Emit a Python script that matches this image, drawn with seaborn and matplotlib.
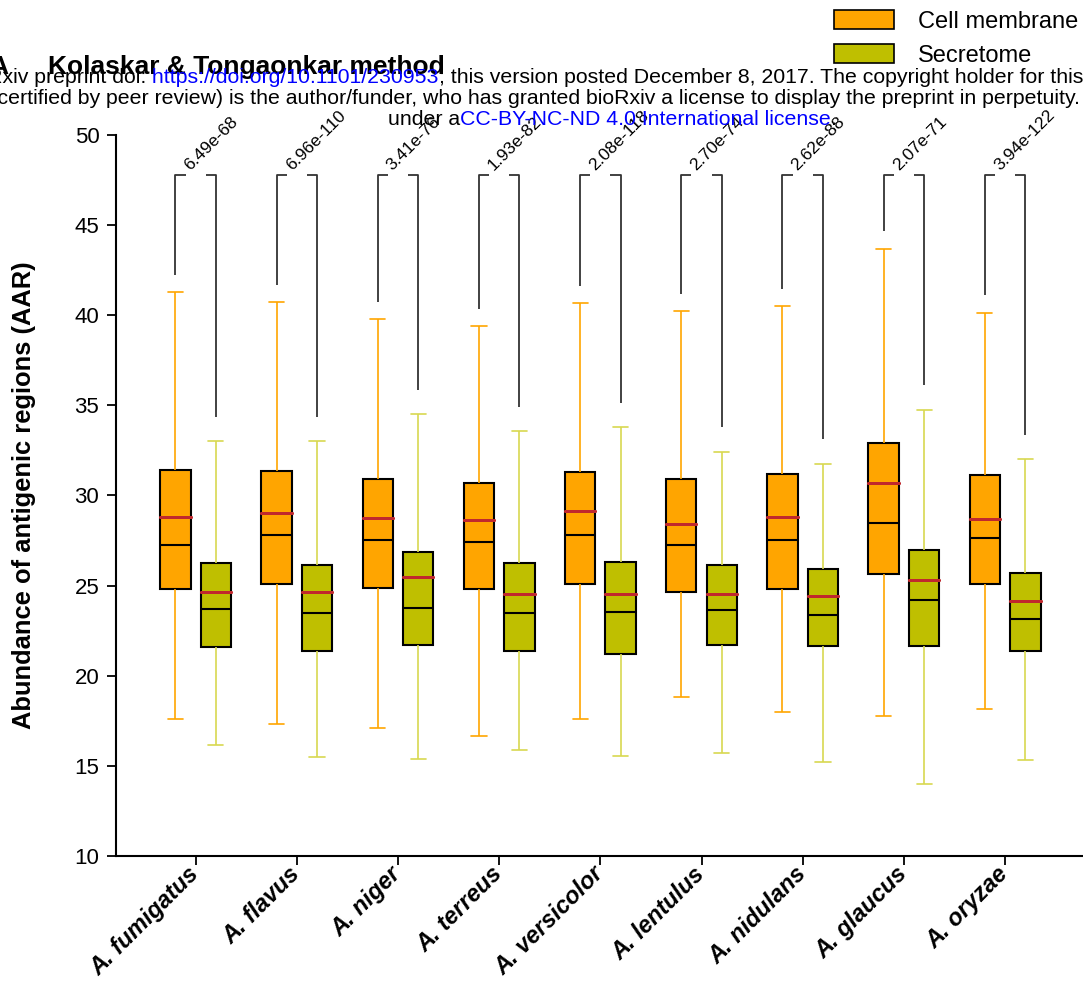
import numpy as np
import pandas as pd
import matplotlib
matplotlib.use("Agg")
import matplotlib.pyplot as plt
import seaborn as sns
from matplotlib.patches import Patch

# ---------------- data ----------------
species = ["A. fumigatus", "A. flavus", "A. niger", "A. terreus", "A. versicolor",
           "A. lentulus", "A. nidulans", "A. glaucus", "A. oryzae"]
groups = ["Cell membrane", "Secretome"]

cm_max = [41.28, 40.74, 39.78, 39.39, 40.67, 40.24, 40.52, 43.70, 40.15]
cm_q3 = [31.41, 31.35, 30.89, 30.70, 31.33, 30.91, 31.20, 32.89, 31.15]
cm_med = [27.26, 27.80, 27.54, 27.44, 27.81, 27.28, 27.54, 28.50, 27.63]
cm_mean = [28.81, 29.02, 28.74, 28.63, 29.13, 28.41, 28.78, 30.72, 28.72]
cm_q1 = [24.80, 25.07, 24.89, 24.83, 25.07, 24.63, 24.81, 25.65, 25.09]
cm_min = [17.59, 17.31, 17.09, 16.63, 17.59, 18.80, 17.98, 17.76, 18.13]

se_max = [33.00, 33.00, 34.52, 33.57, 33.80, 32.44, 31.76, 34.76, 32.00]
se_q3 = [26.24, 26.13, 26.85, 26.24, 26.33, 26.13, 25.93, 26.96, 25.69]
se_med = [23.69, 23.48, 23.78, 23.48, 23.56, 23.65, 23.39, 24.19, 23.17]
se_mean = [24.63, 24.65, 25.46, 24.56, 24.52, 24.56, 24.44, 25.33, 24.13]
se_q1 = [21.59, 21.35, 21.69, 21.35, 21.22, 21.72, 21.63, 21.67, 21.39]
se_min = [16.15, 15.48, 15.37, 15.89, 15.56, 15.74, 15.20, 13.98, 15.31]

pvals = ["6.49e-68", "6.96e-110", "3.41e-76", "1.93e-82", "2.08e-118",
         "2.70e-74", "2.62e-88", "2.07e-71", "3.94e-122"]
bracket_top = 47.78

# ---------------- tables ----------------
stats = {
    "Cell membrane": (cm_min, cm_q1, cm_med, cm_q3, cm_max, cm_mean),
    "Secretome": (se_min, se_q1, se_med, se_q3, se_max, se_mean),
}
rows, mrows = [], []
for g in groups:
    mn, q1, md, q3, mx, me = stats[g]
    for i, sp in enumerate(species):
        for v in (mn[i], q1[i], md[i], q3[i], mx[i]):
            rows.append((sp, g, v))
        mrows.append((sp, g, me[i]))
df = pd.DataFrame(rows, columns=["species", "location", "AAR"])
dmean = pd.DataFrame(mrows, columns=["species", "location", "AAR"])

# ---------------- style ----------------
sns.set_theme(style="ticks")
plt.rcParams["font.family"] = ["Liberation Sans", "DejaVu Sans"]
for k in ("text.color", "axes.labelcolor", "xtick.color", "ytick.color", "axes.edgecolor"):
    plt.rcParams[k] = "black"

W, H = 1083, 989
fig = plt.figure(figsize=(W / 100, H / 100), dpi=100)
ax = fig.add_axes([116 / W, 133 / H, 1 - 116 / W, 721 / H])

fill_col = {"Cell membrane": "#FFA500", "Secretome": "#BFBF00"}
wh_col = {"Cell membrane": "#FFA500", "Secretome": "#D8D850"}
mean_col = "#C0282D"

for g in groups:
    sns.boxplot(data=df[df["location"] == g], x="species", y="AAR", hue="location",
                order=species, hue_order=groups, palette=fill_col, saturation=1,
                dodge=True, width=0.8, gap=0.25, whis=(0, 100), showfliers=False,
                linecolor="black", linewidth=1.5,
                whiskerprops=dict(color=wh_col[g], linewidth=1.2),
                capprops=dict(color=wh_col[g], linewidth=1.2),
                medianprops=dict(color="black", linewidth=1.5),
                legend=False, ax=ax)

# mean lines (single-value boxes collapse to a horizontal line)
sns.boxplot(data=dmean, x="species", y="AAR", hue="location",
            order=species, hue_order=groups, saturation=1, dodge=True,
            palette={g: mean_col for g in groups},
            width=0.8, gap=0.25, fill=False, whis=(0, 100), showfliers=False,
            showcaps=False, linewidth=2.0, legend=False, ax=ax)

# significance brackets
for i in range(len(species)):
    xl, xr = i - 0.2, i + 0.2
    yl = cm_max[i] + 0.95
    yr = se_max[i] + 1.35
    ax.plot([xl, xl, xl + 0.1], [yl, bracket_top, bracket_top], color="#333333",
            lw=1.3, solid_capstyle="butt", clip_on=False)
    ax.plot([xr - 0.1, xr, xr], [bracket_top, bracket_top, yr], color="#333333",
            lw=1.3, solid_capstyle="butt", clip_on=False)
    ax.text(i - 0.03, bracket_top + 0.12, pvals[i], rotation=45, ha="left",
            va="bottom", rotation_mode="anchor", fontsize=12.5, color="black")

# axes
ax.set_ylim(10, 50)
ax.set_xlim(-0.787, 8.77)
ax.set_yticks(range(10, 51, 5))
sns.despine(ax=ax)
for s in ("left", "bottom"):
    ax.spines[s].set_linewidth(1.5)
    ax.spines[s].set_color("black")
ax.tick_params(axis="both", length=6.5, width=1.3, color="black", direction="out",
               labelcolor="black")
ax.tick_params(axis="y", labelsize=16, pad=5.5)
ax.set_xticks(range(len(species)))
ax.set_xticklabels(species, rotation=45, ha="right", va="center", rotation_mode="anchor",
                   fontsize=17, fontweight="bold", fontstyle="italic")
ax.tick_params(axis="x", pad=4)
ax.set_xlabel("")
ax.set_ylabel("Abundance of antigenic regions (AAR)", fontsize=18.4, fontweight="bold")
ax.yaxis.set_label_coords((36 - 116) / (W - 116), 0.5)

# legend
handles = [Patch(facecolor=fill_col[g], edgecolor="black", linewidth=1.2, label=g)
           for g in groups]
fig.legend(handles=handles, loc="upper left", bbox_to_anchor=(834 / W, 1 - 10 / H),
           frameon=False, fontsize=17, handlelength=2.54, handleheight=0.85,
           handletextpad=1.0, labelspacing=0.5, borderpad=0, borderaxespad=0)

# title and panel letter
fig.text(8 / W, 1 - 74 / H, "A", fontsize=19, fontweight="bold", ha="right", va="baseline")
fig.text(48 / W, 1 - 74 / H, "Kolaskar & Tongaonkar method", fontsize=19,
         fontweight="bold", ha="left", va="baseline")

# bioRxiv watermark
fig.canvas.draw()
rend = fig.canvas.get_renderer()


def text_line(parts, y_px, x_left=None, x_right=None, size=15.3):
    ts = [fig.text(0, 1 - y_px / H, s, color=c, ha="left", va="baseline",
                   fontsize=size, zorder=10) for s, c in parts]
    ws = [t.get_window_extent(renderer=rend).width for t in ts]
    x = x_left if x_left is not None else x_right - sum(ws)
    for t, w in zip(ts, ws):
        t.set_x(x / W)
        x += w


blue = "#0000FF"
text_line([("bioRxiv preprint doi:", "black"),
           (" https://doi.org/10.1101/230953", blue),
           ("; this version posted December 8, 2017. The copyright holder for this", "black")],
          83, x_right=1083)
text_line([("preprint (which was not certified by peer review) is the author/funder, "
            "who has granted bioRxiv a license to display the preprint in perpetuity.", "black")],
          104, x_right=1080)
text_line([("under a", "black"), ("CC-BY-NC-ND 4.0 International license", blue),
           (".", "black")], 125, x_left=388)

fig.savefig("out.png", dpi=100)
